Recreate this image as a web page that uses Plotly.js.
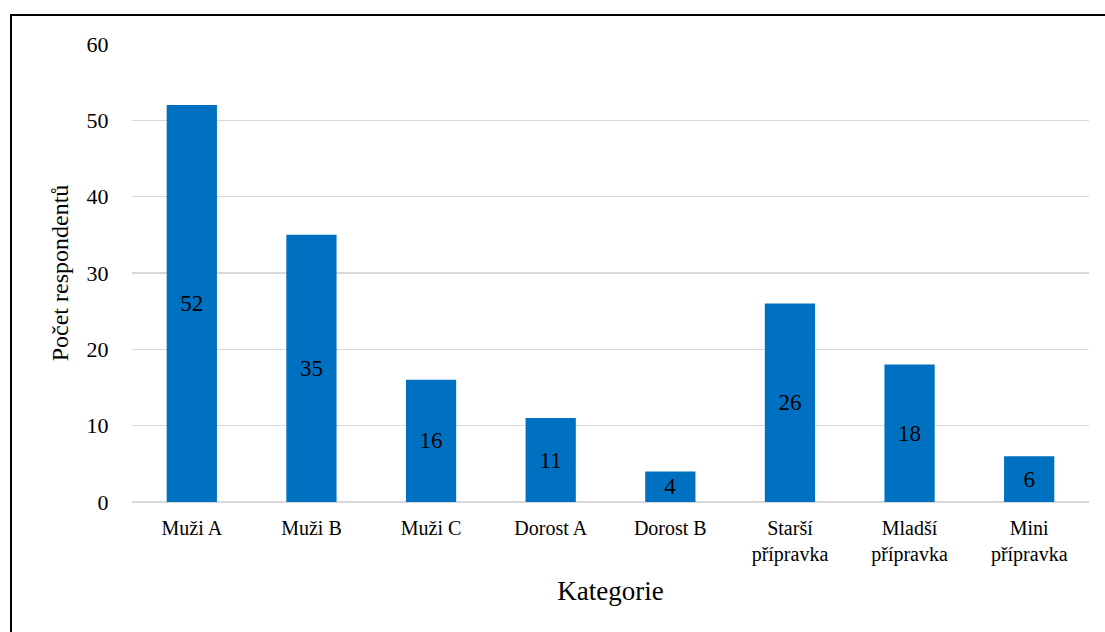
<!DOCTYPE html>
<html>
<head>
<meta charset="utf-8">
<script src="https://cdn.plot.ly/plotly-3.0.1.min.js"></script>
<style>
html,body{margin:0;padding:0;background:#fff;overflow:hidden;}
#frame{position:absolute;left:10px;top:14px;width:1200px;height:700px;border-left:2px solid #000;border-top:2px solid #000;pointer-events:none;z-index:5;}
#chart{position:absolute;left:0;top:0;width:1105px;height:632px;}
</style>
</head>
<body>
<div id="chart"></div>
<div id="frame"></div>
<script>
const categories = ["Muži A","Muži B","Muži C","Dorost A","Dorost B","Starší<br>přípravka","Mladší<br>přípravka","Mini<br>přípravka"];
const values = [52,35,16,11,4,26,18,6];
const yTicks = [0,10,20,30,40,50,60];

const FONT = "Liberation Serif, DejaVu Serif, serif";

Plotly.newPlot('chart', [{
  type: 'bar',
  x: categories,
  y: values,
  marker: {color: '#0070c0'},
  text: values.map(String),
  textposition: 'inside',
  insidetextanchor: 'middle',
  constraintext: 'none',
  textangle: 0,
  textfont: {family: FONT, size: 23, color: '#000'},
  hoverinfo: 'none'
}], {
  width: 1105, height: 632,
  margin: {l: 132, r: 16, t: 44, b: 130},
  paper_bgcolor: '#fff', plot_bgcolor: '#fff',
  bargap: 0.58,
  showlegend: false,
  font: {family: FONT, color: '#000'},
  xaxis: {
    type: 'category',
    tickfont: {family: FONT, size: 20, color: '#000'},
    ticks: 'outside', ticklen: 8, tickcolor: 'rgba(0,0,0,0)',
    showline: false, showgrid: false,
    title: {text: 'Kategorie', font: {family: FONT, size: 27, color: '#000'}, standoff: 16}
  },
  yaxis: {
    range: [0, 60],
    tickvals: yTicks,
    ticktext: yTicks.map(String),
    tickfont: {family: FONT, size: 22, color: '#000'},
    ticks: 'outside', ticklen: 18, tickcolor: 'rgba(0,0,0,0)',
    showgrid: true, gridcolor: '#d9d9d9', gridwidth: 1.5,
    zeroline: true, zerolinecolor: '#d9d9d9', zerolinewidth: 1.5,
    showline: false,
    title: {text: 'Počet respondentů', font: {family: FONT, size: 24, color: '#000'}, standoff: 11}
  }
}, {staticPlot: true, displayModeBar: false});
</script>
</body>
</html>
